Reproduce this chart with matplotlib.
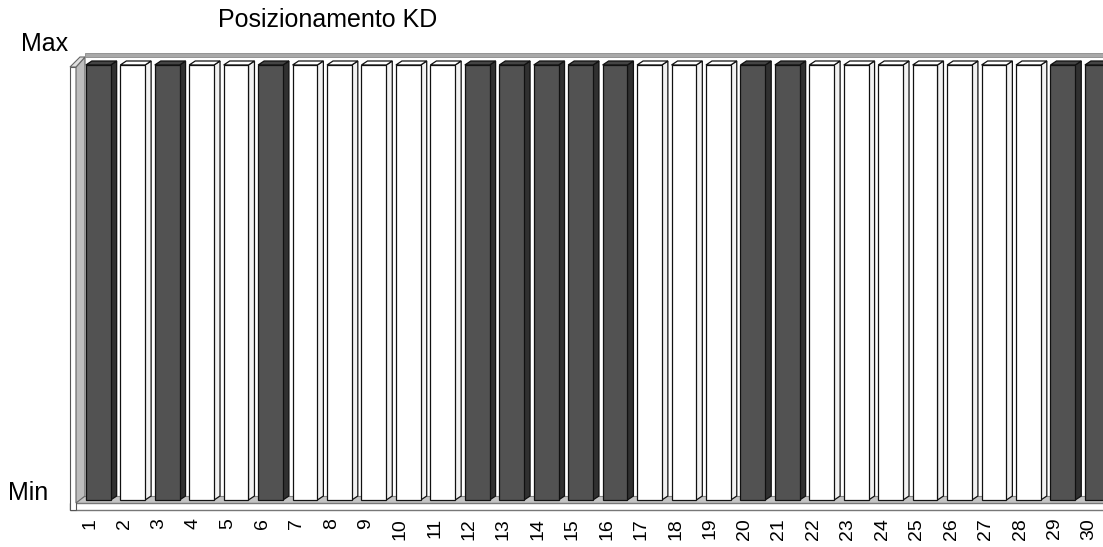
import matplotlib
matplotlib.use("Agg")
import matplotlib.pyplot as plt
from matplotlib.patches import Polygon, Rectangle

# Data (every column reaches "Max")
categories = ["1", "2", "3", "4", "5", "6", "7", "8", "9", "10",
              "11", "12", "13", "14", "15", "16", "17", "18", "19", "20",
              "21", "22", "23", "24", "25", "26", "27", "28", "29", "30"]
values = [1, 1, 1, 1, 1, 1, 1, 1, 1, 1,
          1, 1, 1, 1, 1, 1, 1, 1, 1, 1,
          1, 1, 1, 1, 1, 1, 1, 1, 1, 1]
# 1 = dark column, 0 = white column
kd_flag = [1, 0, 1, 0, 0, 1, 0, 0, 0, 0,
           0, 1, 1, 1, 1, 1, 0, 0, 0, 1,
           1, 0, 0, 0, 0, 0, 0, 0, 1, 1]

W, H = 1103, 547
PX = 34.45   # pixels per category
PY = 435.0   # pixels per value unit

# 3-D look (data units)
BAR_W = 0.72
BAR_OFF = -0.12
BDX, BDY = 6 / PX, 4 / PY
EDGE = "#111111"
LW = 0.9

fig = plt.figure(figsize=(W / 100, H / 100), dpi=100)
ax = fig.add_axes([60 / W, (H - 515) / H, (W - 60) / W, 470 / H])
ax.set_xlim(1 + (60 - 90) / PX, 1 + (W - 90) / PX)
ax.set_ylim((500 - 515) / PY, (500 - 45) / PY)
for s in ax.spines.values():
    s.set_visible(False)

pos = list(range(1, len(categories) + 1))
x_lo, x_hi = ax.get_xlim()

# floor: top surface and front slab
fl_front, fl_back = -3 / PY, 4 / PY
wall_x = 1 + (70 - 90) / PX
ax.add_patch(Polygon([(wall_x, fl_front), (x_hi + 1, fl_front),
                      (x_hi + 1, fl_back), (wall_x + 14 / PX, fl_back)],
                     closed=True, facecolor="#c4c4c4", edgecolor="#888888",
                     lw=0.8, zorder=1))
ax.add_patch(Rectangle((wall_x, -10 / PY), x_hi + 1 - wall_x, 7 / PY,
                       facecolor="white", edgecolor="#777777", lw=1.0, zorder=1))

# left wall: edge strip + receding inner face
ax.add_patch(Rectangle((wall_x, -10 / PY), 6 / PX, (500 - 67) / PY + 10 / PY,
                       facecolor="white", edgecolor="#555555", lw=0.8, zorder=2))
ax.add_patch(Polygon([(wall_x + 6 / PX, fl_front), (wall_x + 6 / PX, (500 - 67) / PY),
                      (wall_x + 15 / PX, (500 - 57) / PY), (wall_x + 15 / PX, fl_back)],
                     closed=True, facecolor="#bdbdbd", edgecolor="#666666",
                     lw=0.8, zorder=2))
ax.add_patch(Polygon([(wall_x, (500 - 67) / PY), (wall_x + 6 / PX, (500 - 67) / PY),
                      (wall_x + 15 / PX, (500 - 57) / PY), (wall_x + 10 / PX, (500 - 57) / PY)],
                     closed=True, facecolor="#e0e0e0", edgecolor="#666666",
                     lw=0.8, zorder=2))

# back wall top edge
ax.add_patch(Rectangle((wall_x + 15 / PX, (500 - 57) / PY), x_hi + 1, 4 / PY,
                       facecolor="#a9a9a9", edgecolor="#8a8a8a", lw=0.6, zorder=2))

# columns
front_cols = {1: "#525252", 0: "white"}
side_cols = {1: "#303030", 0: "#f2f2f2"}
top_cols = {1: "#444444", 0: "white"}
for p, v, k in zip(pos, values, kd_flag):
    x0 = p + BAR_OFF
    x1 = x0 + BAR_W
    ax.add_patch(Polygon([(x1, 0), (x1 + BDX, BDY), (x1 + BDX, v + BDY), (x1, v)],
                         closed=True, facecolor=side_cols[k], edgecolor=EDGE,
                         lw=LW, zorder=3))
    ax.add_patch(Polygon([(x0, v), (x0 + BDX, v + BDY), (x1 + BDX, v + BDY), (x1, v)],
                         closed=True, facecolor=top_cols[k], edgecolor=EDGE,
                         lw=LW, zorder=3))
    ax.bar(x0, v, width=BAR_W, align="edge", color=front_cols[k],
           edgecolor=EDGE, linewidth=LW, zorder=4)

ax.set_xticks(pos)
ax.set_xticklabels(categories, rotation=90, fontsize=14,
                   family=["Liberation Sans", "DejaVu Sans"])
ax.tick_params(axis="x", length=0, pad=2)
ax.set_yticks([])

fig.text(218 / W, 1 - 20 / H, "Posizionamento KD", fontsize=18,
         family="Liberation Sans", ha="left", va="center")
fig.text(21 / W, 1 - 44 / H, "Max", fontsize=18,
         family="Liberation Sans", ha="left", va="center")
fig.text(8 / W, 1 - 493 / H, "Min", fontsize=18,
         family="Liberation Sans", ha="left", va="center")

fig.savefig("out.png", dpi=100)
